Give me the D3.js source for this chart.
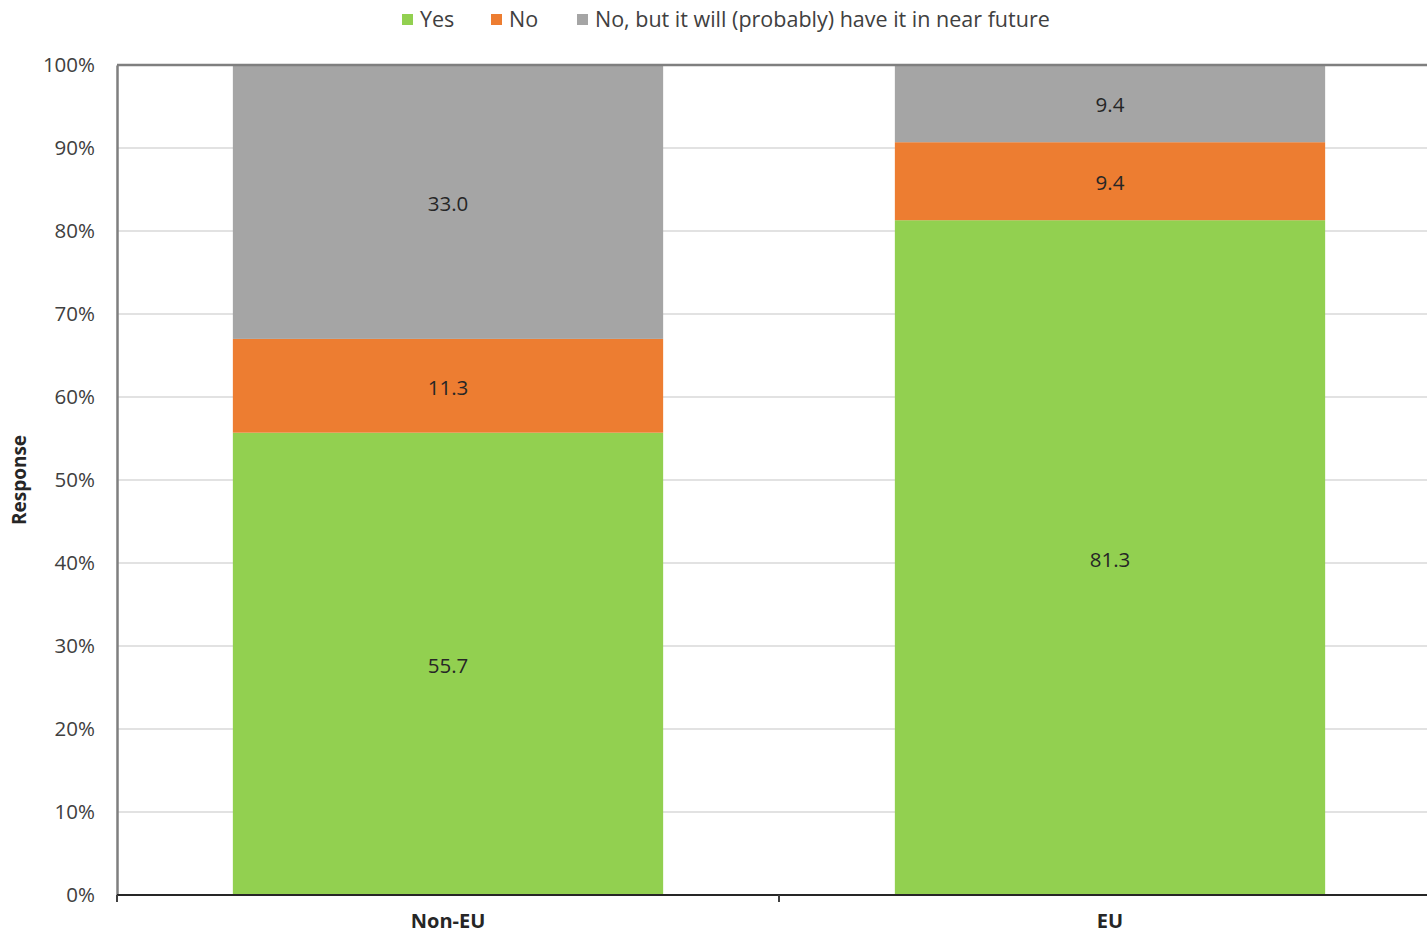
<!DOCTYPE html>
<html><head><meta charset="utf-8">
<script src="https://cdn.jsdelivr.net/npm/d3@7"></script>
<style>body{margin:0;background:#fff;} svg{display:block;font-family:"Open Sans", sans-serif;}</style>
</head><body>
<svg id="c" width="1427" height="937"></svg>
<script>
const categories = ["Non-EU", "EU"];
const seriesNames = ["Yes", "No", "No, but it will (probably) have it in near future"];
const yesValues = [55.7, 81.3];
const noValues = [11.3, 9.4];
const futureValues = [33.0, 9.4];
const yTicks = [0,10,20,30,40,50,60,70,80,90,100];
const colors = ["#92D050", "#ED7D31", "#A5A5A5"];

const svg = d3.select("#c");
const L = 117, R = 1441, T = 65, B = 895;
const x = d3.scaleBand().domain(categories).range([L, R]).paddingInner(0.35).paddingOuter(0.175);
const y = d3.scaleLinear().domain([0,100]).range([B, T]);

const data = categories.map((c,i)=>({cat:c, Yes:yesValues[i], No:noValues[i], Future:futureValues[i]}));
const keys = ["Yes","No","Future"];
const stack = d3.stack().keys(keys)(data);

// gridlines
svg.append("g").selectAll("line").data(yTicks.filter(t=>t>0 && t<100)).join("line")
  .attr("x1", L).attr("x2", 1427).attr("y1", d=>y(d)).attr("y2", d=>y(d))
  .attr("stroke", "#d9d9d9").attr("stroke-width", 1.5);

// bars
stack.forEach((s, si) => {
  const g = svg.append("g");
  g.selectAll("rect").data(s).join("rect")
    .attr("x", d=>x(d.data.cat)).attr("width", x.bandwidth())
    .attr("y", d=>y(d[1])).attr("height", d=>y(d[0])-y(d[1]))
    .attr("fill", colors[si]);
  g.selectAll("text").data(s).join("text")
    .attr("x", d=>x(d.data.cat)+x.bandwidth()/2)
    .attr("y", d=>(y(d[0])+y(d[1]))/2 + 2)
    .attr("dy", "0.35em").attr("text-anchor","middle")
    .attr("font-size", 20.5).attr("fill", "#262626")
    .text(d=>(d[1]-d[0]).toFixed(1));
});

// top border
svg.append("line").attr("x1", L).attr("x2", 1427).attr("y1", T).attr("y2", T)
  .attr("stroke", "#7f7f7f").attr("stroke-width", 2.5);

// y axis
const yAxis = svg.append("g").attr("transform", `translate(${L},0)`)
  .call(d3.axisLeft(y).tickValues(yTicks).tickSize(0).tickPadding(22).tickFormat(d=>d+"%"));
yAxis.select(".domain").attr("stroke", "#7f7f7f").attr("stroke-width", 2.5);
yAxis.selectAll("text").attr("font-size", 20.5).attr("fill", "#404040").attr("font-family", "'Open Sans', sans-serif");

// x axis
const xAxis = svg.append("g").attr("transform", `translate(0,${B})`)
  .call(d3.axisBottom(x).tickSize(0).tickPadding(19));
xAxis.select(".domain").attr("stroke", "#262626").attr("stroke-width", 2).attr("d", `M${L},0H1427`);
xAxis.selectAll("text").attr("font-size", 20).attr("font-weight", "bold").attr("fill", "#262626").attr("font-family", "'Open Sans', sans-serif");
// category separator ticks
const sepX = [L, (x("Non-EU")+x.bandwidth()+x("EU"))/2];
svg.append("g").selectAll("line").data(sepX).join("line")
  .attr("x1", d=>d).attr("x2", d=>d).attr("y1", B).attr("y2", B+7)
  .attr("stroke", "#404040").attr("stroke-width", 2);

// y title
svg.append("text").attr("transform", "translate(26,480) rotate(-90)")
  .attr("text-anchor","middle").attr("font-size", 19).attr("font-weight","bold").attr("fill","#262626")
  .text("Response");

// legend
const legX = [402, 491, 577];
const leg = svg.append("g");
seriesNames.forEach((n,i)=>{
  leg.append("rect").attr("x", legX[i]).attr("y", 14).attr("width", 11).attr("height", 11).attr("fill", colors[i]);
  leg.append("text").attr("x", legX[i]+18).attr("y", 19).attr("dy","0.35em")
    .attr("font-size", 21.5).attr("fill", "#404040").text(n);
});
</script>
</body></html>
